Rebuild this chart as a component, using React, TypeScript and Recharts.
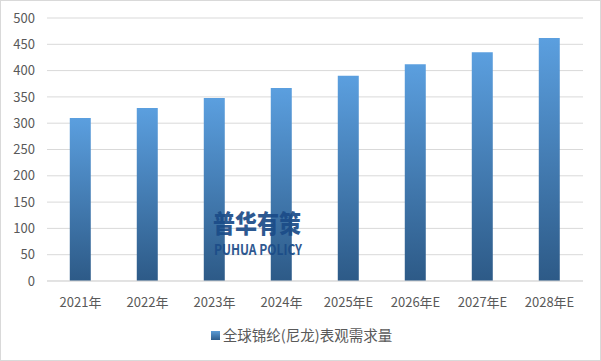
import { Bar, BarChart, CartesianGrid, XAxis, YAxis } from "recharts";

const years = ["2021年", "2022年", "2023年", "2024年", "2025年E", "2026年E", "2027年E", "2028年E"];
const demand = [310, 329, 348, 367, 390, 412, 435, 462];
const yTicks = [0, 50, 100, 150, 200, 250, 300, 350, 400, 450, 500];
const seriesName = "全球锦纶(尼龙)表观需求量";

const rows = years.map((year, i) => ({ year, value: demand[i] }));

const font = '"Noto Sans CJK SC", "Noto Sans", sans-serif';

export default function App() {
  return (
    <div
      style={{
        position: "absolute",
        left: 0,
        top: 0,
        width: 601,
        height: 361,
        boxSizing: "border-box",
        border: "1px solid #d9d9d9",
        background: "#fff",
      }}
    >
      <div style={{ position: "absolute", left: -1, top: -1 }}>
        <BarChart
          width={601}
          height={361}
          data={rows}
          margin={{ top: 18, right: 18, bottom: 50, left: 0 }}
          barCategoryGap="34%"
        >
          <defs>
            <linearGradient id="barFill" x1="0" y1="0" x2="0" y2="1">
              <stop offset="0%" stopColor="#5b9fdf" />
              <stop offset="100%" stopColor="#2d5a87" />
            </linearGradient>
          </defs>
          <CartesianGrid stroke="#d9d9d9" vertical={false} />
          <XAxis
            dataKey="year"
            tickLine={false}
            axisLine={{ stroke: "#d9d9d9" }}
            tick={{ fill: "#595959", fontSize: 13, fontFamily: font }}
            tickMargin={11}
            height={30}
            interval={0}
          />
          <YAxis
            width={47}
            domain={[0, 500]}
            ticks={yTicks}
            tickLine={false}
            axisLine={false}
            tick={{ fill: "#595959", fontSize: 13, fontFamily: font }}
            tickMargin={6}
            interval={0}
          />
          <Bar dataKey="value" name={seriesName} fill="url(#barFill)" isAnimationActive={false} />
        </BarChart>
      </div>
      <div
        style={{
          position: "absolute",
          top: 324,
          left: 0,
          width: 601,
          display: "flex",
          alignItems: "center",
          justifyContent: "center",
          fontFamily: font,
          fontSize: 14.5,
          color: "#595959",
          lineHeight: "20px",
        }}
      >
        <span
          style={{
            display: "inline-block",
            width: 9,
            height: 9,
            marginRight: 3,
            background: "linear-gradient(#5b9bd5, #2e5d8c)",
          }}
        />
        {seriesName}
      </div>
      <div
        style={{
          position: "absolute",
          left: 212,
          top: 207,
          fontFamily: font,
          fontWeight: 900,
          fontSize: 25,
          color: "#1b4c88",
          opacity: 0.92,
          lineHeight: "28px",
          transform: "scaleX(0.88)",
          transformOrigin: "left",
          whiteSpace: "nowrap",
        }}
      >
        普华有策
      </div>
      <div
        style={{
          position: "absolute",
          left: 213,
          top: 239,
          fontFamily: font,
          fontWeight: 700,
          fontSize: 15,
          color: "#1b4c88",
          opacity: 0.92,
          lineHeight: "18px",
          transform: "scaleX(0.8)",
          transformOrigin: "left",
          whiteSpace: "nowrap",
        }}
      >
        PUHUA POLICY
      </div>
    </div>
  );
}
